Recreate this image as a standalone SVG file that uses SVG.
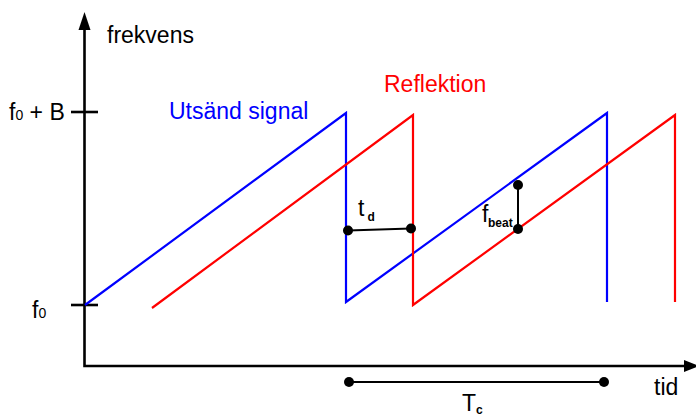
<svg xmlns="http://www.w3.org/2000/svg" width="696" height="418" viewBox="0 0 696 418">
<style>
text{font-family:"Liberation Sans",Arial,sans-serif;fill:#000}
.lbl{font-size:23px}
.sub{font-size:12px;font-weight:bold}
.ax{stroke:#000;stroke-width:2.6;fill:none}
.blue{stroke:#0000ff;stroke-width:2.2;fill:none;stroke-linejoin:miter}
.red{stroke:#ff0000;stroke-width:2.2;fill:none;stroke-linejoin:miter}
.meas{stroke:#000;stroke-width:2;fill:none}
.dot{fill:#000}
</style>
<rect width="696" height="418" fill="#fff"/>
<g id="axes">
<polyline class="ax" points="84.5,28 84.5,366 690,366"/>
<polygon points="84.5,12 78.5,30 90.5,30" fill="#000"/>
<polygon points="699,366 684,360 684,372" fill="#000"/>
<line class="ax" x1="71" y1="112" x2="98" y2="112"/>
<line class="ax" x1="71" y1="305" x2="98" y2="305"/>
</g>
<g id="labels">
<text class="lbl" x="9" y="120">f<tspan font-size="14">0</tspan> + B</text>
<text class="lbl" x="32" y="318">f<tspan font-size="14">0</tspan></text>
<text class="lbl" x="107" y="43">frekvens</text>
<text class="lbl" x="169" y="119" style="fill:#0000ff">Utsänd signal</text>
<text class="lbl" x="384" y="92" style="fill:#ff0000">Reflektion</text>
<text class="lbl" x="654" y="395">tid</text>
</g>
<g id="signals">
<polyline class="blue" points="85,305 346,113 346,302 607,113 607,302"/>
<polyline class="red" points="152,308 413,115 413,305 675,115 675,302"/>
</g>
<g id="connectors">
<line class="meas" x1="348" y1="230.5" x2="411" y2="228.5"/>
<circle class="dot" cx="348" cy="230.5" r="5"/>
<circle class="dot" cx="411" cy="228.5" r="5"/>
<line class="meas" x1="518" y1="185" x2="518" y2="229"/>
<circle class="dot" cx="518" cy="185" r="5"/>
<circle class="dot" cx="518" cy="229" r="5"/>
<line class="meas" x1="349" y1="382" x2="604" y2="382"/>
<circle class="dot" cx="349" cy="382" r="5"/>
<circle class="dot" cx="604" cy="382" r="5"/>
</g>
<g id="meas-labels">
<text class="lbl" x="358" y="216">t</text>
<text class="sub" x="367.5" y="221">d</text>
<text class="lbl" x="482" y="222">f</text>
<text class="sub" x="488" y="227">beat</text>
<text class="lbl" x="462" y="411">T</text>
<text class="sub" x="476" y="414">c</text>
</g>
</svg>
